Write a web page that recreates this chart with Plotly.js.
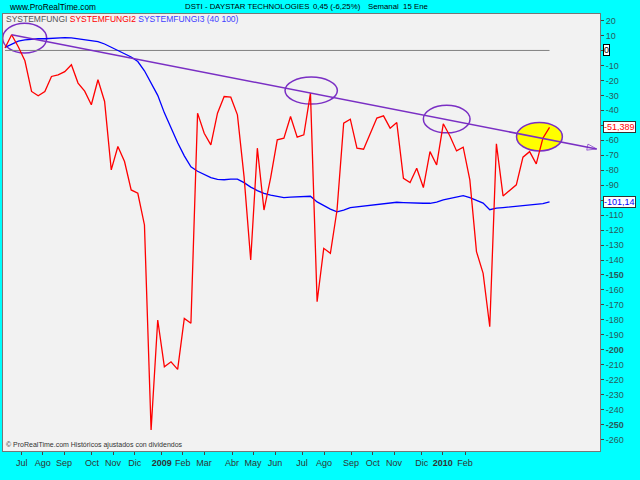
<!DOCTYPE html>
<html>
<head>
<meta charset="utf-8">
<script src="https://cdn.plot.ly/plotly-3.0.1.min.js"></script>
<style>html,body{margin:0;padding:0;background:#00ffff;}#chart{width:640px;height:480px;}</style>
</head>
<body>
<div id="chart"></div>
<script>
// Weekly values (83 weeks, ~Jun 2008 .. 15 Ene 2010)
const systemfungi2 = [1.6, 10.5, 2.5, -6.9, -27.4, -30.3, -27.4, -17.4, -16.3, -14.2, -9.6, -21.8, -27.2, -36.3, -19.6, -34.1, -79.8, -64.2, -74.2, -93.2, -95.4, -116.6, -253.6, -180.1, -211.4, -208, -213.1, -179, -182.3, -41.9, -55.3, -63.1, -41.9, -30.8, -31.2, -43, -84.3, -140, -65.3, -106.6, -85.2, -59.7, -58.6, -44.1, -57.9, -56.4, -28.5, -167.9, -132.2, -135.5, -106.6, -48.6, -45.9, -65.3, -66, -55.7, -45.2, -43.7, -51.9, -48.2, -85.4, -88.3, -78.7, -91.6, -67.6, -76.5, -49, -57.1, -67.1, -64.6, -86.5, -134.4, -148.9, -184.6, -62.4, -97.2, -93.2, -89.8, -71.3, -67.6, -75.8, -58.6, -51.389];
const systemfungi3 = [2.1, 4.3, 6.2, 7.0, 7.6, 7.8, 7.8, 8.2, 8.6, 8.6, 8.4, 7.9, 7.4, 6.6, 5.9, 4.3, 2.3, 0.1, -2.2, -4.4, -7.4, -13.6, -21.6, -30.0, -41.7, -52.2, -61.7, -70.4, -77.8, -80.7, -82.9, -85.0, -86.1, -86.4, -86.0, -86.0, -88.3, -91.3, -93.6, -95.5, -96.7, -97.7, -98.3, -98.0, -97.9, -97.6, -97.4, -101.2, -103.8, -106.0, -107.8, -106.7, -105.0, -104.5, -104.1, -103.5, -102.9, -102.3, -101.9, -101.4, -101.6, -101.9, -102.1, -102.1, -102.1, -101.3, -99.9, -98.9, -98.0, -97.0, -98.3, -100.1, -102.0, -106.4, -105.4, -105.0, -104.5, -104.1, -103.7, -103.2, -102.8, -102.3, -101.14];
const systemfungi = [0,0,0,0,0,0,0,0,0,0, 0,0,0,0,0,0,0,0,0,0, 0,0,0,0,0,0,0,0,0,0, 0,0,0,0,0,0,0,0,0,0, 0,0,0,0,0,0,0,0,0,0, 0,0,0,0,0,0,0,0,0,0, 0,0,0,0,0,0,0,0,0,0, 0,0,0,0,0,0,0,0,0,0, 0,0,0];

// Month tick labels (positions in week units)
const monthTickPos = [2.52, 5.68, 8.89, 13.1, 16.27, 19.53, 23.6, 26.75, 29.97, 34.19, 37.35, 40.66, 44.73, 48.04, 52.11, 55.38, 58.58, 62.75, 65.92, 69.28];
const monthTickText = ['Jul','Ago','Sep','Oct','Nov','Dic','<b>2009</b>','Feb','Mar','Abr','May','Jun','Jul','Ago','Sep','Oct','Nov','Dic','<b>2010</b>','Feb'];

// Y ticks
const yTickVals = [20,10,0,-10,-20,-30,-40,-50,-60,-70,-80,-90,-100,-110,-120,-130,-140,-150,-160,-170,-180,-190,-200,-210,-220,-230,-240,-250,-260];
const yTickText = yTickVals.map(v => (v === 0 || v === -50 || v === -100) ? '' : (v % 50 === 0 ? '<b>' + v + '</b>' : String(v)));

// Hand-drawn trend line and ellipses (week units / values)
const trendX = [1, 89.1];
const trendY = [10.5, -65.8];
const ellipseX0 = [-0.35, 42.17, 63.0, 77.03];
const ellipseX1 = [6.28, 50.05, 70.03, 83.93];
const ellipseY0 = [-1.74, -35.85, -55.05, -67.1];
const ellipseY1 = [18.2, -17.8, -36.65, -48.16];
const ellipseFill = ['rgba(0,0,0,0)', 'rgba(0,0,0,0)', 'rgba(0,0,0,0)', '#ffff00'];

const weeks = systemfungi2.map((_, i) => i);
const purple = '#7a2fc4';
const FONT = 'Liberation Sans, Arial, sans-serif';

const traces = [
  {x: weeks, y: systemfungi, mode: 'lines', line: {color: '#808080', width: 1}, hoverinfo: 'skip'},
  {x: weeks, y: systemfungi3, mode: 'lines', line: {color: '#0000ff', width: 1.3}, hoverinfo: 'skip'},
  {x: weeks, y: systemfungi2, mode: 'lines', line: {color: '#ff0000', width: 1.3}, hoverinfo: 'skip'},
  {x: trendX, y: trendY, mode: 'lines+markers', line: {color: purple, width: 1.5},
   marker: {symbol: ['circle', 'arrow-open'], size: [0, 10], angleref: 'previous', color: purple, line: {color: purple, width: 1}},
   hoverinfo: 'skip'}
];

const shapes = ellipseX0.map((x0, k) => ({
  type: 'circle', xref: 'x', yref: 'y', x0: x0, x1: ellipseX1[k], y0: ellipseY0[k], y1: ellipseY1[k],
  line: {color: purple, width: 1.5}, fillcolor: ellipseFill[k], layer: 'below'
}));

function px2paperX(px) { return (px - 3) / 597; }
function px2paperY(py) { return (450.7 - py) / 436.4; }

const hdr = {family: FONT, size: 7.8, color: '#000'};
const annotations = [
  {text: 'www.ProRealTime.com', xref: 'paper', yref: 'paper', x: px2paperX(6.5), y: px2paperY(7), xanchor: 'left', yanchor: 'middle', showarrow: false, font: {family: FONT, size: 8.3, color: '#000'}},
  {text: 'DSTI - DAYSTAR TECHNOLOGIES', xref: 'paper', yref: 'paper', x: px2paperX(182.5), y: px2paperY(7), xanchor: 'left', yanchor: 'middle', showarrow: false, font: hdr},
  {text: '0,45 (-6,25%)', xref: 'paper', yref: 'paper', x: px2paperX(310.5), y: px2paperY(7), xanchor: 'left', yanchor: 'middle', showarrow: false, font: hdr},
  {text: 'Semanal&nbsp; 15 Ene', xref: 'paper', yref: 'paper', x: px2paperX(366), y: px2paperY(7), xanchor: 'left', yanchor: 'middle', showarrow: false, font: hdr},
  {text: '<span style="color:#555">SYSTEMFUNGI</span> <span style="color:#ff0000">SYSTEMFUNGI2</span> <span style="color:#4040ff">SYSTEMFUNGI3 (40 100)</span>', xref: 'paper', yref: 'paper', x: px2paperX(4), y: px2paperY(19.5), xanchor: 'left', yanchor: 'middle', showarrow: false, font: {family: FONT, size: 8.5}},
  {text: '© ProRealTime.com Históricos ajustados con dividendos', xref: 'paper', yref: 'paper', x: px2paperX(4), y: px2paperY(445), xanchor: 'left', yanchor: 'middle', showarrow: false, font: {family: FONT, size: 7, color: '#333'}},
  {text: '0', xref: 'paper', yref: 'y', x: 1, y: 0, xanchor: 'left', yanchor: 'middle', xshift: 3, showarrow: false, bgcolor: '#ffffff', bordercolor: '#000', borderwidth: 1, borderpad: 0, font: {family: FONT, size: 9, color: '#000'}},
  {text: '-51,389', xref: 'paper', yref: 'y', x: 1, y: systemfungi2[systemfungi2.length - 1], xanchor: 'left', yanchor: 'middle', xshift: 3, showarrow: false, bgcolor: '#ffffff', bordercolor: '#333', borderwidth: 1, borderpad: 0, font: {family: FONT, size: 9, color: '#ff0000'}},
  {text: '-101,14', xref: 'paper', yref: 'y', x: 1, y: systemfungi3[systemfungi3.length - 1], xanchor: 'left', yanchor: 'middle', xshift: 3, showarrow: false, bgcolor: '#ffffff', bordercolor: '#333', borderwidth: 1, borderpad: 0, font: {family: FONT, size: 9, color: '#0000ff'}}
];

const layout = {
  width: 640, height: 480,
  paper_bgcolor: '#00ffff', plot_bgcolor: '#f2f2f2',
  margin: {l: 3, r: 40, t: 14, b: 29, pad: 0},
  showlegend: false,
  xaxis: {range: [-0.3, 89.6], tickmode: 'array', tickvals: monthTickPos, ticktext: monthTickText,
    ticks: 'outside', ticklen: 3, tickcolor: '#444', tickfont: {family: FONT, size: 9, color: '#333'},
    showgrid: false, zeroline: false, showline: true, linecolor: '#777', mirror: true, fixedrange: true},
  yaxis: {side: 'right', range: [-267.6, 24.35], tickmode: 'array', tickvals: yTickVals, ticktext: yTickText,
    ticks: 'outside', ticklen: 3, tickcolor: '#444', tickfont: {family: FONT, size: 9, color: '#2a5a5a'},
    showgrid: false, zeroline: false, showline: true, linecolor: '#777', mirror: true, fixedrange: true},
  shapes: shapes,
  annotations: annotations
};

Plotly.newPlot('chart', traces, layout, {staticPlot: true, displayModeBar: false});
</script>
</body>
</html>
